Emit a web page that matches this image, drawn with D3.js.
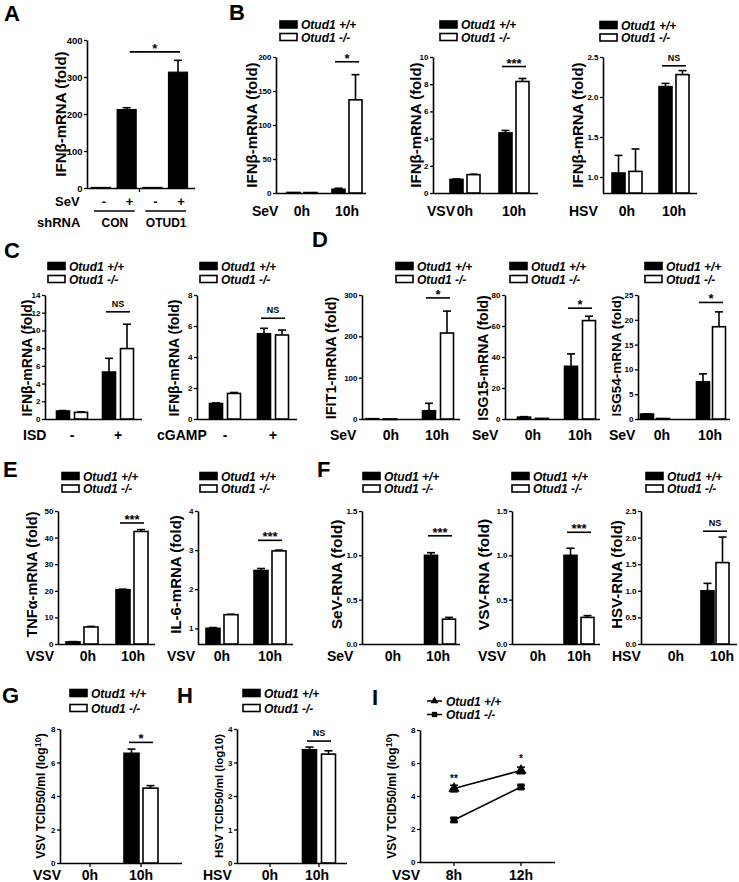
<!DOCTYPE html>
<html><head><meta charset="utf-8">
<script src="https://cdn.jsdelivr.net/npm/d3@7"></script>
<style>
body{margin:0;background:#fff}
svg{display:block}
svg text{font-family:"Liberation Sans",Arial,Helvetica,sans-serif;font-weight:bold;fill:#000}
</style>
</head><body>
<svg id="fig" width="739" height="882"></svg>
<script>
// ---------------- DATA ----------------
const genotypes = ["Otud1 +/+", "Otud1 -/-"];
const hours = ["0h", "10h"];
const hoursI = ["8h", "12h"];
const treatSigns = ["-", "+"];

// Panel A
const aSeV = ["-", "+", "-", "+"];
const aShRNA = ["CON", "OTUD1"];
const aMean = [1.5, 212, 1.5, 313];
const aErr = [0, 5, 0, 32];
const aTicks = [0, 100, 200, 300, 400];
const aSig = [368, "*"];

// Panel B (SeV, VSV, HSV) IFNb-mRNA
const b1Ticks = [0, 50, 100, 150, 200];
const b1WT = [0.8, 5.5], b1WTErr = [0, 1.5];
const b1KO = [0.7, 137], b1KOErr = [0, 37];
const b1Sig = [193, "*"];
const b2Ticks = [0, 2, 4, 6, 8, 10];
const b2WT = [1.0, 4.42], b2WTErr = [0.03, 0.18];
const b2KO = [1.35, 8.2], b2KOErr = [0.03, 0.22];
const b2Sig = [9.3, "***"];
const b3Ticks = [1.0, 1.5, 2.0, 2.5], b3Min = 0.8;
const b3WT = [1.05, 2.13], b3WTErr = [0.22, 0.04];
const b3KO = [1.07, 2.28], b3KOErr = [0.28, 0.05];
const b3Sig = [2.39, "NS"];

// Panel C (ISD, cGAMP)
const c1Ticks = [0, 2, 4, 6, 8, 10, 12, 14];
const c1WT = [0.9, 5.3], c1WTErr = [0.05, 1.55];
const c1KO = [0.75, 7.95], c1KOErr = [0.05, 2.75];
const c1Sig = [12.1, "NS"];
const c2Ticks = [0, 2, 4, 6, 8];
const c2WT = [1.0, 5.5], c2WTErr = [0.04, 0.35];
const c2KO = [1.65, 5.42], c2KOErr = [0.06, 0.32];
const c2Sig = [6.5, "NS"];

// Panel D (IFIT1, ISG15, ISG54)
const d1Ticks = [0, 100, 200, 300];
const d1WT = [0.8, 20], d1WTErr = [0, 18];
const d1KO = [0.2, 208], d1KOErr = [0, 53];
const d1Sig = [293, "*"];
const d2Ticks = [0, 20, 40, 60, 80];
const d2WT = [1.2, 34], d2WTErr = [0.3, 8];
const d2KO = [0.4, 63.5], d2KOErr = [0, 2.8];
const d2Sig = [71.5, "*"];
const d3Ticks = [0, 5, 10, 15, 20, 25];
const d3WT = [1.0, 7.5], d3WTErr = [0.05, 1.6];
const d3KO = [0.1, 18.6], d3KOErr = [0, 3];
const d3Sig = [23.5, "*"];

// Panel E (TNFa, IL-6)
const e1Ticks = [0, 10, 20, 30, 40, 50];
const e1WT = [0.8, 20.4], e1WTErr = [0.1, 0.2];
const e1KO = [6.4, 42.3], e1KOErr = [0.2, 0.7];
const e1Sig = [45.5, "***"];
const e2Ticks = [1, 2, 3, 4], e2Min = 0.6;
const e2WT = [1.0, 2.48], e2WTErr = [0.02, 0.05];
const e2KO = [1.35, 2.98], e2KOErr = [0.01, 0.02];
const e2Sig = [3.25, "***"];

// Panel F (viral RNA)
const f1Ticks = [0, 0.5, 1.0, 1.5];
const f1WT = [0, 1.0], f1WTErr = [0, 0.03];
const f1KO = [0, 0.28], f1KOErr = [0, 0.02];
const f1Sig = [1.22, "***"];
const f2Ticks = [0, 0.5, 1.0, 1.5];
const f2WT = [0, 1.0], f2WTErr = [0, 0.08];
const f2KO = [0, 0.3], f2KOErr = [0, 0.02];
const f2Sig = [1.26, "***"];
const f3Ticks = [0, 0.5, 1.0, 1.5, 2.0, 2.5];
const f3WT = [0, 1.0], f3WTErr = [0, 0.14];
const f3KO = [0, 1.53], f3KOErr = [0, 0.48];
const f3Sig = [2.12, "NS"];

// Panel G, H (TCID50)
const gTicks = [0, 2, 4, 6, 8];
const gWT = [0, 6.55], gWTErr = [0, 0.25];
const gKO = [0, 4.47], gKOErr = [0, 0.15];
const gSig = [7.2, "*"];
const hTicks = [0, 1, 2, 3, 4];
const hWT = [0, 3.38], hWTErr = [0, 0.08];
const hKO = [0, 3.25], hKOErr = [0, 0.1];
const hSig = [3.64, "NS"];

// Panel I (time course)
const iTicks = [0, 2, 4, 6, 8];
const iWT = [4.45, 5.55], iWTErr = [0.2, 0.2];
const iKO = [2.55, 4.55], iKOErr = [0.12, 0.1];
const iSig = [[4.85, "**"], [6.06, "*"]];

// ---------------- DRAWING ----------------
const svg = d3.select("#fig");
const FONT = '"Liberation Sans",Arial,Helvetica,sans-serif';

function yAxis(g, y, x0, ticks, fmt, fs) {
  const ax = g.append("g").attr("transform", `translate(${x0},0)`)
    .call(d3.axisLeft(y).tickValues(ticks).tickFormat(fmt).tickSize(3).tickSizeOuter(0).tickPadding(1.5));
  ax.attr("font-family", FONT).attr("font-size", fs).attr("font-weight", "bold");
  ax.select(".domain").attr("stroke", "#000").attr("stroke-width", 1.6);
  ax.selectAll(".tick line").attr("stroke", "#000").attr("stroke-width", 1.3);
  ax.selectAll(".tick text").attr("fill", "#000");
  return ax;
}

function ylabel(parts, cx, cy, fs) {
  const t = svg.append("text")
    .attr("transform", `translate(${cx - 1.5},${cy}) rotate(-90)`)
    .attr("text-anchor", "middle").attr("dy", "0.35em").attr("font-size", fs);
  if (typeof parts === "string") { t.text(parts); return; }
  parts.forEach(p => {
    const s = t.append("tspan").text(p.t);
    if (p.fs) s.attr("font-size", p.fs);
    if (p.dy) s.attr("dy", p.dy);
  });
}

function legend(x, y, dy) {
  genotypes.forEach((name, i) => {
    const yy = y + i * dy;
    svg.append("rect").attr("x", x).attr("y", yy - 3.5).attr("width", 17).attr("height", 7)
      .attr("fill", i ? "#fff" : "#000").attr("stroke", "#000").attr("stroke-width", 1.6);
    svg.append("text").attr("x", x + 21).attr("y", yy + 4.5).attr("font-size", 12)
      .attr("font-style", "italic").text(name);
  });
}

function sigMark(x1, x2, yy, label) {
  svg.append("line").attr("x1", x1).attr("x2", x2).attr("y1", yy).attr("y2", yy)
    .attr("stroke", "#000").attr("stroke-width", 1.6);
  const isNS = label === "NS";
  svg.append("text").attr("x", (x1 + x2) / 2).attr("y", isNS ? yy - 5 : yy + 1)
    .attr("text-anchor", "middle").attr("font-size", isNS ? 9 : 13).text(label);
}

function letter(ch, x, y) {
  svg.append("text").attr("x", x).attr("y", y).attr("font-size", 22).text(ch);
}

function barPanel(p) {
  const g = svg.append("g");
  const y = d3.scaleLinear().domain([p.min || 0, d3.max(p.ticks)]).range([p.yBot, p.yTop]);
  const x = d3.scalePoint().domain(p.cats).range(p.centers);
  yAxis(g, y, p.x0, p.ticks, p.fmt || d3.format("d"), p.tickFs || 8);
  g.append("line").attr("x1", p.x0).attr("x2", p.x1).attr("y1", p.yBot + 0.5).attr("y2", p.yBot + 0.5)
    .attr("stroke", "#000").attr("stroke-width", 1.6);
  if (p.xticks) {
    g.selectAll(".xt").data(p.cats).join("line")
      .attr("x1", d => x(d)).attr("x2", d => x(d)).attr("y1", p.yBot).attr("y2", p.yBot + 4)
      .attr("stroke", "#000").attr("stroke-width", 1.3);
  }
  const rows = [];
  p.cats.forEach((c, i) => {
    rows.push({ c, k: 0, v: p.wt[i], e: p.wtErr[i] });
    rows.push({ c, k: 1, v: p.ko[i], e: p.koErr[i] });
  });
  const bx = d => d.k === 0 ? x(d.c) - p.gap / 2 - p.w : x(d.c) + p.gap / 2;
  const vis = rows.filter(d => d.v > 0);
  vis.filter(d => d.e > 0).forEach(d => {
    const cx = bx(d) + p.w / 2;
    g.append("line").attr("x1", cx).attr("x2", cx).attr("y1", y(d.v)).attr("y2", y(d.v + d.e))
      .attr("stroke", "#000").attr("stroke-width", 1.6);
    g.append("line").attr("x1", cx - 4).attr("x2", cx + 4).attr("y1", y(d.v + d.e)).attr("y2", y(d.v + d.e))
      .attr("stroke", "#000").attr("stroke-width", 1.6);
  });
  g.selectAll(".bar").data(vis).join("rect")
    .attr("x", bx).attr("width", p.w)
    .attr("y", d => y(d.v)).attr("height", d => Math.max(0.5, p.yBot - y(d.v)))
    .attr("fill", d => d.k ? "#fff" : "#000").attr("stroke", "#000").attr("stroke-width", 1.6);
  const sc = x(p.cats[1]);
  sigMark(sc - 12, sc + 12, y(p.sig[0]), p.sig[1]);
  svg.append("text").attr("x", p.catX).attr("y", p.labY).attr("font-size", 14).text(p.catName);
  p.cats.forEach((c, i) => {
    svg.append("text").attr("x", x(c) + (p.labShift ? p.labShift[i] : 0)).attr("y", p.labY)
      .attr("text-anchor", "middle").attr("font-size", 14).text(c);
  });
  ylabel(p.ylabel, p.ylx, (p.yTop + p.yBot) / 2 + (p.yly || 0), p.ylfs || 15);
  if (p.legend) legend(p.legend[0], p.legend[1], p.legend[2]);
}

// ---------- Panel A ----------
(function () {
  const g = svg.append("g");
  const yTop = 40, yBot = 188, x0 = 87, x1 = 195;
  const y = d3.scaleLinear().domain([0, 400]).range([yBot, yTop]);
  const x = d3.scalePoint().domain(d3.range(aMean.length)).range([101, 178]);
  yAxis(g, y, x0, aTicks, d3.format("d"), 9.5);
  g.append("line").attr("x1", x0).attr("x2", x1).attr("y1", yBot + 0.5).attr("y2", yBot + 0.5)
    .attr("stroke", "#000").attr("stroke-width", 1.6);
  g.append("line").attr("x1", (x(1) + x(2)) / 2).attr("x2", (x(1) + x(2)) / 2).attr("y1", yBot).attr("y2", yBot + 4)
    .attr("stroke", "#000").attr("stroke-width", 1.3);
  const w = 19;
  aMean.forEach((v, i) => {
    if (aErr[i] > 0) {
      g.append("line").attr("x1", x(i)).attr("x2", x(i)).attr("y1", y(v)).attr("y2", y(v + aErr[i]))
        .attr("stroke", "#000").attr("stroke-width", 1.6);
      g.append("line").attr("x1", x(i) - 4).attr("x2", x(i) + 4).attr("y1", y(v + aErr[i])).attr("y2", y(v + aErr[i]))
        .attr("stroke", "#000").attr("stroke-width", 1.6);
    }
  });
  g.selectAll(".bar").data(aMean).join("rect")
    .attr("x", (d, i) => x(i) - w / 2).attr("width", w)
    .attr("y", d => y(d)).attr("height", d => Math.max(0.5, yBot - y(d)))
    .attr("fill", "#000").attr("stroke", "#000").attr("stroke-width", 1.2);
  sigMark(x(1) + 3, x(3) + 2, y(aSig[0]), aSig[1]);
  svg.append("text").attr("x", 55).attr("y", 206).attr("font-size", 13).text("SeV");
  aSeV.forEach((s, i) => svg.append("text").attr("x", x(i) + 3).attr("y", 206).attr("text-anchor", "middle").attr("font-size", 13).text(s));
  svg.append("text").attr("x", 37).attr("y", 227).attr("font-size", 13).text("shRNA");
  aShRNA.forEach((s, i) => {
    const cx = (x(2 * i) + x(2 * i + 1)) / 2;
    svg.append("line").attr("x1", x(2 * i) - 7).attr("x2", x(2 * i + 1) + 8).attr("y1", 211).attr("y2", 211)
      .attr("stroke", "#000").attr("stroke-width", 1.5);
    svg.append("text").attr("x", cx + 1).attr("y", 227).attr("text-anchor", "middle").attr("font-size", 12).text(s);
  });
  ylabel("IFNβ-mRNA (fold)", 62, (yTop + yBot) / 2, 15);
})();

letter("A", 4, 21);
letter("B", 229, 20);
letter("C", 4, 258);
letter("D", 312, 247);
letter("E", 3, 477);
letter("F", 317, 477);
letter("G", 2, 703);
letter("H", 177, 703);
letter("I", 372, 705);

// ---------- Row 1 : B ----------
const r1 = { yTop: 57, yBot: 193, labY: 216, cats: hours };
barPanel({ ...r1, x0: 276, x1: 366, centers: [302, 347], w: 13, gap: 4, ticks: b1Ticks,
  wt: b1WT, wtErr: b1WTErr, ko: b1KO, koErr: b1KOErr, sig: b1Sig, catName: "SeV", catX: 252,
  ylabel: "IFNβ-mRNA (fold)", ylx: 253, legend: [280, 24.5, 12.5] });
barPanel({ ...r1, x0: 433, x1: 538, centers: [465, 514], w: 13, gap: 4, ticks: b2Ticks,
  wt: b2WT, wtErr: b2WTErr, ko: b2KO, koErr: b2KOErr, sig: b2Sig, catName: "VSV", catX: 427,
  ylabel: "IFNβ-mRNA (fold)", ylx: 417, legend: [440, 24.5, 12.5] });
barPanel({ ...r1, x0: 603, x1: 697, centers: [627, 674], w: 13, gap: 4, ticks: b3Ticks, min: b3Min,
  fmt: d3.format(".1f"), wt: b3WT, wtErr: b3WTErr, ko: b3KO, koErr: b3KOErr, sig: b3Sig, catName: "HSV", catX: 569,
  ylabel: "IFNβ-mRNA (fold)", ylx: 579, legend: [600, 25, 12.5] });

// ---------- Row 2 : C, D ----------
const r2 = { yTop: 295, yBot: 419, labY: 440 };
barPanel({ ...r2, cats: treatSigns, x0: 45, x1: 142, centers: [72, 118], w: 13, gap: 5, ticks: c1Ticks,
  wt: c1WT, wtErr: c1WTErr, ko: c1KO, koErr: c1KOErr, sig: c1Sig, catName: "ISD", catX: 23,
  ylabel: "IFNβ-mRNA (fold)", ylx: 29, ylfs: 14, yly: 1, legend: [48, 266, 13] });
barPanel({ ...r2, cats: treatSigns, x0: 197, x1: 297, centers: [225, 273], w: 13, gap: 5, ticks: c2Ticks,
  wt: c2WT, wtErr: c2WTErr, ko: c2KO, koErr: c2KOErr, sig: c2Sig, catName: "cGAMP", catX: 157,
  ylabel: "IFNβ-mRNA (fold)", ylx: 176, ylfs: 14, yly: 1, legend: [200, 266, 13] });
barPanel({ ...r2, cats: hours, x0: 362, x1: 460, centers: [381, 438], labShift: [10, -1], w: 13, gap: 5, ticks: d1Ticks,
  wt: d1WT, wtErr: d1WTErr, ko: d1KO, koErr: d1KOErr, sig: d1Sig, catName: "SeV", catX: 330,
  ylabel: "IFIT1-mRNA (fold)", ylx: 332, ylfs: 14.5, yly: 1, legend: [396, 266, 13] });
barPanel({ ...r2, cats: hours, x0: 505, x1: 600, centers: [533, 580], w: 13, gap: 5, ticks: d2Ticks,
  wt: d2WT, wtErr: d2WTErr, ko: d2KO, koErr: d2KOErr, sig: d2Sig, catName: "SeV", catX: 472,
  ylabel: "ISG15-mRNA (fold)", ylx: 485, ylfs: 14, yly: 1, legend: [510, 266, 13] });
barPanel({ ...r2, cats: hours, x0: 638, x1: 730, centers: [655, 711], labShift: [7, -1], w: 13, gap: 3, ticks: d3Ticks,
  wt: d3WT, wtErr: d3WTErr, ko: d3KO, koErr: d3KOErr, sig: d3Sig, catName: "SeV", catX: 609,
  ylabel: "ISG54-mRNA (fold)", ylx: 618, ylfs: 13.5, yly: -1, legend: [645, 266, 13] });

// ---------- Row 3 : E, F ----------
const r3 = { yTop: 511, yBot: 644, labY: 661, cats: hours };
barPanel({ ...r3, x0: 58, x1: 155, centers: [82, 132], labShift: [6, 1], w: 14, gap: 4, ticks: e1Ticks,
  wt: e1WT, wtErr: e1WTErr, ko: e1KO, koErr: e1KOErr, sig: e1Sig, catName: "VSV", catX: 26,
  ylabel: "TNFα-mRNA (fold)", ylx: 33, ylfs: 14.5, yly: -3, legend: [62, 476, 12.5] });
barPanel({ ...r3, x0: 198, x1: 293, centers: [222, 270], w: 14, gap: 4, ticks: e2Ticks, min: e2Min,
  wt: e2WT, wtErr: e2WTErr, ko: e2KO, koErr: e2KOErr, sig: e2Sig, catName: "VSV", catX: 167,
  ylabel: "IL-6-mRNA (fold)", ylx: 177, yly: -3, legend: [200, 476, 12.5] });
barPanel({ ...r3, x0: 362, x1: 460, centers: [393, 440], labShift: [0, -2], w: 13, gap: 5, ticks: f1Ticks,
  fmt: d3.format(".1f"), wt: f1WT, wtErr: f1WTErr, ko: f1KO, koErr: f1KOErr, sig: f1Sig, catName: "SeV", catX: 327,
  ylabel: "SeV-RNA (fold)", ylx: 338, ylfs: 15.5, yly: -3, legend: [363, 476, 12.5] });
barPanel({ ...r3, x0: 512, x1: 600, centers: [538, 579], w: 13, gap: 4, ticks: f2Ticks,
  fmt: d3.format(".1f"), wt: f2WT, wtErr: f2WTErr, ko: f2KO, koErr: f2KOErr, sig: f2Sig, catName: "VSV", catX: 478,
  ylabel: "VSV-RNA (fold)", ylx: 485, ylfs: 15.5, yly: -3, legend: [512, 476, 12.5] });
barPanel({ ...r3, x0: 641, x1: 737, centers: [676, 715], labShift: [0, 7], w: 13, gap: 2, ticks: f3Ticks,
  fmt: d3.format(".1f"), wt: f3WT, wtErr: f3WTErr, ko: f3KO, koErr: f3KOErr, sig: f3Sig, catName: "HSV", catX: 612,
  ylabel: "HSV-RNA (fold)", ylx: 618, ylfs: 15, yly: -3, legend: [646, 476, 12.5] });

// ---------- Row 4 : G, H ----------
const r4 = { yTop: 729, yBot: 863, labY: 880, cats: hours, xticks: true };
barPanel({ ...r4, x0: 60, x1: 182, centers: [90, 141], w: 15, gap: 4, ticks: gTicks,
  wt: gWT, wtErr: gWTErr, ko: gKO, koErr: gKOErr, sig: gSig, catName: "VSV", catX: 33,
  ylabel: [{ t: "VSV TCID50/ml (log" }, { t: "10", fs: 9, dy: -4 }, { t: ")", dy: 4 }], ylx: 42, ylfs: 12,
  legend: [70, 693, 15] });
barPanel({ ...r4, x0: 237, x1: 347, centers: [270, 319], labShift: [0, -2], w: 14, gap: 5, ticks: hTicks,
  wt: hWT, wtErr: hWTErr, ko: hKO, koErr: hKOErr, sig: hSig, catName: "HSV", catX: 203,
  ylabel: "HSV TCID50/ml (log10)", ylx: 220, ylfs: 11.5, legend: [243, 693, 15] });

// ---------- Panel I ----------
(function () {
  const g = svg.append("g");
  const yTop = 730, yBot = 862, x0 = 420, x1 = 555;
  const y = d3.scaleLinear().domain([0, 8]).range([yBot, yTop]);
  const x = d3.scalePoint().domain(hoursI).range([454, 521]);
  yAxis(g, y, x0, iTicks, d3.format("d"), 8);
  g.append("line").attr("x1", x0).attr("x2", x1).attr("y1", yBot + 0.5).attr("y2", yBot + 0.5)
    .attr("stroke", "#000").attr("stroke-width", 1.6);
  hoursI.forEach(h => g.append("line").attr("x1", x(h)).attr("x2", x(h)).attr("y1", yBot).attr("y2", yBot + 4)
    .attr("stroke", "#000").attr("stroke-width", 1.3));
  const series = [
    { v: iWT, e: iWTErr, sym: d3.symbolTriangle, size: 55 },
    { v: iKO, e: iKOErr, sym: d3.symbolSquare, size: 48 }
  ];
  const line = d3.line().x((d, i) => x(hoursI[i])).y(d => y(d));
  series.forEach(s => {
    g.append("path").attr("d", line(s.v)).attr("fill", "none").attr("stroke", "#000").attr("stroke-width", 1.6);
    s.v.forEach((v, i) => {
      const cx = x(hoursI[i]);
      [v + s.e[i], v - s.e[i]].forEach(ev => {
        g.append("line").attr("x1", cx).attr("x2", cx).attr("y1", y(v)).attr("y2", y(ev)).attr("stroke", "#000").attr("stroke-width", 1.5);
        g.append("line").attr("x1", cx - 4).attr("x2", cx + 4).attr("y1", y(ev)).attr("y2", y(ev)).attr("stroke", "#000").attr("stroke-width", 1.5);
      });
      g.append("path").attr("d", d3.symbol(s.sym, s.size)()).attr("transform", `translate(${cx},${y(v)})`).attr("fill", "#000");
    });
  });
  iSig.forEach((s, i) => svg.append("text").attr("x", x(hoursI[i])).attr("y", y(s[0]))
    .attr("text-anchor", "middle").attr("font-size", 10).text(s[1]));
  genotypes.forEach((name, i) => {
    const yy = 701 + i * 13.5;
    svg.append("line").attr("x1", 427).attr("x2", 442).attr("y1", yy).attr("y2", yy).attr("stroke", "#000").attr("stroke-width", 1.5);
    svg.append("path").attr("d", d3.symbol(series[i].sym, 28)()).attr("transform", `translate(434.5,${yy})`).attr("fill", "#000");
    svg.append("text").attr("x", 446).attr("y", yy + 4.5).attr("font-size", 12).attr("font-style", "italic").text(name);
  });
  svg.append("text").attr("x", 392).attr("y", 880).attr("font-size", 14).text("VSV");
  hoursI.forEach(h => svg.append("text").attr("x", x(h)).attr("y", 880).attr("text-anchor", "middle").attr("font-size", 14).text(h));
  ylabel([{ t: "VSV TCID50/ml (log" }, { t: "10", fs: 9, dy: -4 }, { t: ")", dy: 4 }], 393, (yTop + yBot) / 2, 12);
})();
</script>
</body></html>
